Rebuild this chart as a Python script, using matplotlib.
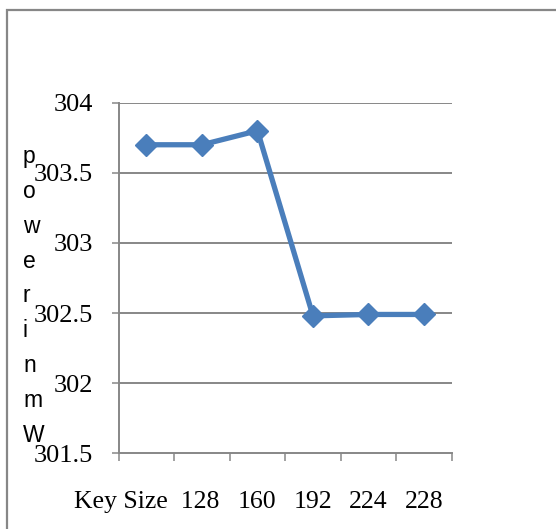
import matplotlib.pyplot as plt
import numpy as np
from matplotlib.patches import Rectangle
from matplotlib.ticker import FixedLocator

# data
key_labels = ["Key Size  128", "", "160", "192", "224", "228"]
power_mw = [303.70, 303.70, 303.80, 302.48, 302.49, 302.49]
y_ticks = [301.5, 302, 302.5, 303, 303.5, 304]
y_ticklabels = ["301.5", "302", "302.5", "303", "303.5", "304"]

grey = '#878787'
blue = '#4a7ebb'

fig = plt.figure(figsize=(5.56, 5.29), dpi=100)
ax = fig.add_axes([0.2135, 0.1431, 0.599, 0.6628])

# outer chart border (only left and top are inside the picture)
fig.patches.append(Rectangle((7 / 556, -0.2), 1.3, 1.2 - 9.5 / 529,
                             transform=fig.transFigure, fill=False,
                             edgecolor=grey, lw=1.6, clip_on=False))

x = np.arange(len(power_mw))
ax.plot(x, power_mw, color=blue, lw=3.8, marker='D', markersize=11.5,
        markerfacecolor=blue, markeredgecolor=blue, zorder=3)

ax.set_xlim(-0.5, len(power_mw) - 0.5)
ax.set_ylim(y_ticks[0], y_ticks[-1])

ax.set_yticks(y_ticks)
ax.set_yticklabels(y_ticklabels, fontfamily='Liberation Serif', fontsize=19)
ax.tick_params(axis='y', length=5.4, width=1.1, color=grey, pad=13)

ax.set_xticks(x)
ax.set_xticklabels(key_labels, fontfamily='Liberation Serif', fontsize=18.5)
ax.tick_params(axis='x', which='major', length=0, pad=27.5)
ax.xaxis.set_minor_locator(FixedLocator(np.arange(-0.5, len(power_mw), 1.0)))
ax.tick_params(axis='x', which='minor', length=6, width=1.1, color=grey)

for yv in y_ticks[1:]:
    ax.axhline(yv, color=grey, lw=1.4, zorder=1)

for s in ['top', 'right']:
    ax.spines[s].set_visible(False)
for s in ['left', 'bottom']:
    ax.spines[s].set_color(grey)
    ax.spines[s].set_linewidth(1.4)

# stacked axis title
fig.text(23 / 556, 1 - 296 / 529, "\n".join("powerinmW"),
         fontfamily='Liberation Sans', fontsize=16.5, ha='left', va='center',
         multialignment='left', linespacing=1.66)

fig.savefig('out.png', dpi=100, facecolor='white')
